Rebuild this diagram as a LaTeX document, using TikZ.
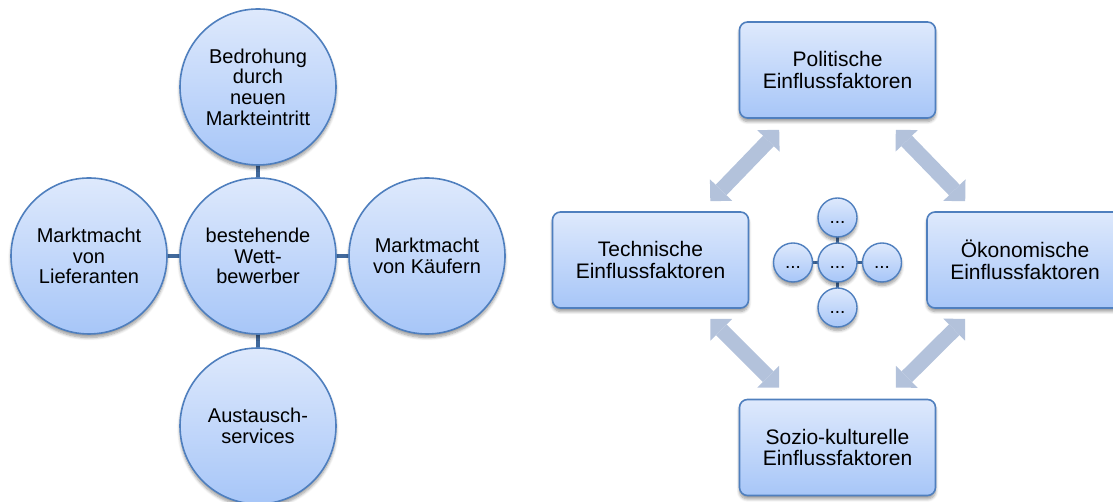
\documentclass[tikz,border=0pt]{standalone}
\usepackage{fontspec}
\setmainfont{Liberation Sans}
\usetikzlibrary{arrows.meta,calc,shadows.blur}

\definecolor{fillTop}{HTML}{DEE9FC}
\definecolor{fillMid}{HTML}{CEDFFB}
\definecolor{fillBot}{HTML}{A7C6F8}
\definecolor{rimBlue}{HTML}{4F7FBE}
\definecolor{linkBlue}{HTML}{41699C}
\definecolor{arrowBlue}{HTML}{B3C2DB}

\tikzset{
  softshadow/.style={blur shadow={shadow xshift=0pt, shadow yshift=-3.5pt,
      shadow blur radius=3pt, shadow blur steps=6, shadow opacity=40}},
  bluefill/.style={top color=fillTop, middle color=fillMid, bottom color=fillBot,
      draw=rimBlue, line width=1.6pt, softshadow},
  bigcircle/.style={circle, bluefill, minimum size=156pt, inner sep=0pt,
      align=center, font=\fontsize{20}{20.7}\selectfont},
  smallcircle/.style={circle, bluefill, line width=1.4pt, minimum size=39pt,
      inner sep=0pt, text height=13pt, text depth=0pt,
      font=\fontsize{19}{20}\selectfont},
  factorbox/.style={rectangle, rounded corners=8pt, bluefill, minimum width=196pt,
      minimum height=96pt, inner sep=0pt, align=center,
      font=\fontsize{21}{21.5}\selectfont},
  link/.style={draw=linkBlue, line width=4pt},
  smalllink/.style={draw=linkBlue, line width=3.5pt},
  bigarrow/.style={draw=arrowBlue, line width=15pt,
      >={Triangle[width=31pt,length=15.5pt,line width=0pt]}, <->},
}

\begin{document}
\begin{tikzpicture}[x=1pt,y=1pt]
  \useasboundingbox (0,0) rectangle (1113,502);

  % ---- five forces: circles and their links ----
  \coordinate (cc) at (258,246);
  \draw[link] ($(cc)+(0,169)$) -- ($(cc)+(0,-170)$);
  \draw[link] ($(cc)+(-169,0)$) -- ($(cc)+(169,0)$);
  \node[bigcircle] (comp)   at (cc) {bestehende\\Wett-\\bewerber};
  \node[bigcircle] (threat) at ($(cc)+(0,169)$) {Bedrohung\\durch\\neuen\\Markteintritt};
  \node[bigcircle] (supp)   at ($(cc)+(-169,0)$) {Marktmacht\\von\\Lieferanten};
  \node[bigcircle] (buy)    at ($(cc)+(169,0)$) {Marktmacht\\von Käufern};
  \node[bigcircle] (subst)  at ($(cc)+(0,-170)$) {Austausch-\\services};

  % ---- PEST factors ----
  \node[factorbox] (pol)  at (837.5,432)  {Politische\\Einflussfaktoren};
  \node[factorbox] (tech) at (650.5,242)  {Technische\\Einflussfaktoren};
  \node[factorbox] (oek)  at (1025,242)   {Ökonomische\\Einflussfaktoren};
  \node[factorbox] (soz)  at (837.5,54.5) {Sozio-kulturelle\\Einflussfaktoren};

  % double arrows between neighbouring factors
  \draw[bigarrow] ($(tech.north east)+(-39,10)$) -- ($(pol.south west)+(40.5,-11)$);
  \draw[bigarrow] ($(pol.south east)+(-40.5,-11)$) -- ($(oek.north west)+(39,10)$);
  \draw[bigarrow] ($(tech.south east)+(-39,-10)$) -- ($(soz.north west)+(40.5,11)$);
  \draw[bigarrow] ($(oek.south west)+(39,-10)$) -- ($(soz.north east)+(-40.5,11)$);

  % small cluster in the middle
  \coordinate (mc) at (837.5,239.5);
  \draw[smalllink] ($(mc)+(0,45)$) -- ($(mc)+(0,-45)$);
  \draw[smalllink] ($(mc)+(-44.5,0)$) -- ($(mc)+(44.5,0)$);
  \node[smallcircle] (m0) at (mc) {...};
  \node[smallcircle] (mN) at ($(mc)+(0,45)$) {...};
  \node[smallcircle] (mS) at ($(mc)+(0,-45)$) {...};
  \node[smallcircle] (mW) at ($(mc)+(-44.5,0)$) {...};
  \node[smallcircle] (mE) at ($(mc)+(44.5,0)$) {...};
\end{tikzpicture}
\end{document}
